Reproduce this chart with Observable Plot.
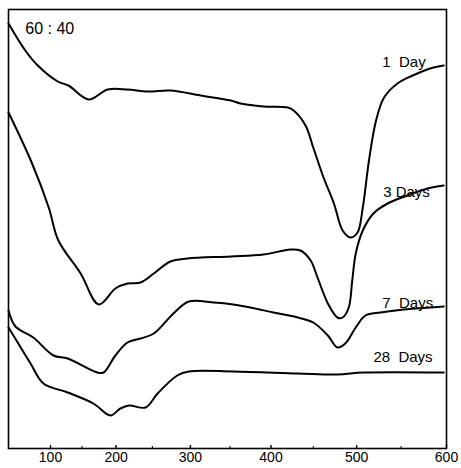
<!DOCTYPE html>
<html>
<head>
<meta charset="utf-8">
<script src="https://cdn.jsdelivr.net/npm/d3@7"></script>
<script src="https://cdn.jsdelivr.net/npm/@observablehq/plot@0.6"></script>
<style>
  html, body { margin: 0; padding: 0; background: #fff; }
  #chart svg { display: block; }
</style>
</head>
<body>
<div id="chart"></div>
<script>
// Temperature (°C) and arbitrary deflection values
const temp1Day  = [19, 55, 78, 112, 129, 160, 188, 216, 244, 274, 313, 351, 363, 391, 420, 427, 441, 450, 462, 474, 484, 493, 501, 507, 514, 522, 531, 546, 563, 582, 597];
const val1Day   = [425, 398, 383, 367, 363, 349, 359, 359, 357, 358, 353, 348, 345, 342, 341, 338, 323, 301, 271, 245, 218, 211, 216, 241, 288, 328, 351, 365, 373, 380, 383];

const temp3Days = [19, 67, 97, 113, 148, 175, 199, 216, 234, 252, 274, 296, 351, 391, 423, 435, 447, 455, 467, 478, 484, 491, 495, 499, 507, 519, 535, 557, 579, 597];
const val3Days  = [336, 286, 241, 208, 175, 144, 160, 165, 166, 175, 187, 190, 192, 194, 199, 198, 188, 171, 145, 131, 131, 141, 168, 195, 218, 235, 245, 253, 260, 263];

const temp7Days = [19, 35, 70, 105, 128, 173, 182, 199, 216, 234, 252, 278, 298, 330, 354, 375, 403, 432, 450, 467, 478, 487, 499, 510, 527, 553, 582, 597];
const val7Days  = [138, 122, 111, 93, 90, 76, 76, 93, 106, 110, 115, 135, 147, 146, 144, 141, 136, 131, 126, 113, 101, 105, 121, 133, 136, 139, 141, 142];

const temp28Days = [19, 46, 65, 88, 128, 167, 192, 206, 218, 241, 257, 283, 298, 354, 432, 478, 508, 597];
const val28Days  = [121, 101, 85, 65, 56, 45, 33, 40, 43, 41, 55, 73, 77, 77, 75, 74, 76, 76];

const seriesNames = ["1 Day", "3 Days", "7 Days", "28 Days"];
const labelTexts  = ["60 : 40", "1  Day", "3 Days", "7  Days", "28  Days"];
const labelTemps  = [55, 529, 530, 529, 519];
const labelVals   = [420, 386, 256, 145, 91];
const labelSizes  = [16, 15, 15, 15, 15];

const tickValues  = [100, 200, 300, 400, 500, 600];
const minorTicks  = [150, 250, 350, 450, 550];

const seriesT = [temp1Day, temp3Days, temp7Days, temp28Days];
const seriesV = [val1Day, val3Days, val7Days, val28Days];
const rows = [];
seriesNames.forEach((name, i) => {
  seriesT[i].forEach((t, j) => rows.push({series: name, t, v: seriesV[i][j]}));
});
const labels = labelTexts.map((text, i) => ({text, t: labelTemps[i], v: labelVals[i], size: labelSizes[i]}));

const font = "'Liberation Sans', Arial, sans-serif";

const chart = Plot.plot({
  width: 461,
  height: 468,
  marginLeft: 8,
  marginRight: 15,
  marginTop: 9,
  marginBottom: 20,
  style: {fontFamily: font, background: "#fff", color: "#000"},
  x: {type: "pow", exponent: 1.24, domain: [19, 600]},
  y: {domain: [0, 439], axis: null},
  marks: [
    Plot.frame({stroke: "#000", strokeWidth: 1.6}),
    Plot.ruleX(tickValues, {x: d => d, y1: 0, y2: 3, stroke: "#000", strokeWidth: 1.4}),
    Plot.ruleX(minorTicks, {x: d => d, y1: 0, y2: 2, stroke: "#000", strokeWidth: 1}),
    Plot.axisX({ticks: tickValues, tickSize: 0, tickPadding: 4, fontSize: 14, tickFormat: d => String(d), label: null, fill: "#000"}),
    Plot.line(rows, {x: "t", y: "v", z: "series", curve: "catmull-rom", stroke: "#000", strokeWidth: 2}),
    Plot.text(labels.filter(d => d.size === 16), {x: "t", y: "v", text: "text", textAnchor: "start", fontSize: 16, fill: "#000"}),
    Plot.text(labels.filter(d => d.size === 15), {x: "t", y: "v", text: "text", textAnchor: "start", fontSize: 15, fill: "#000"})
  ]
});
document.getElementById("chart").appendChild(chart);
</script>
</body>
</html>
